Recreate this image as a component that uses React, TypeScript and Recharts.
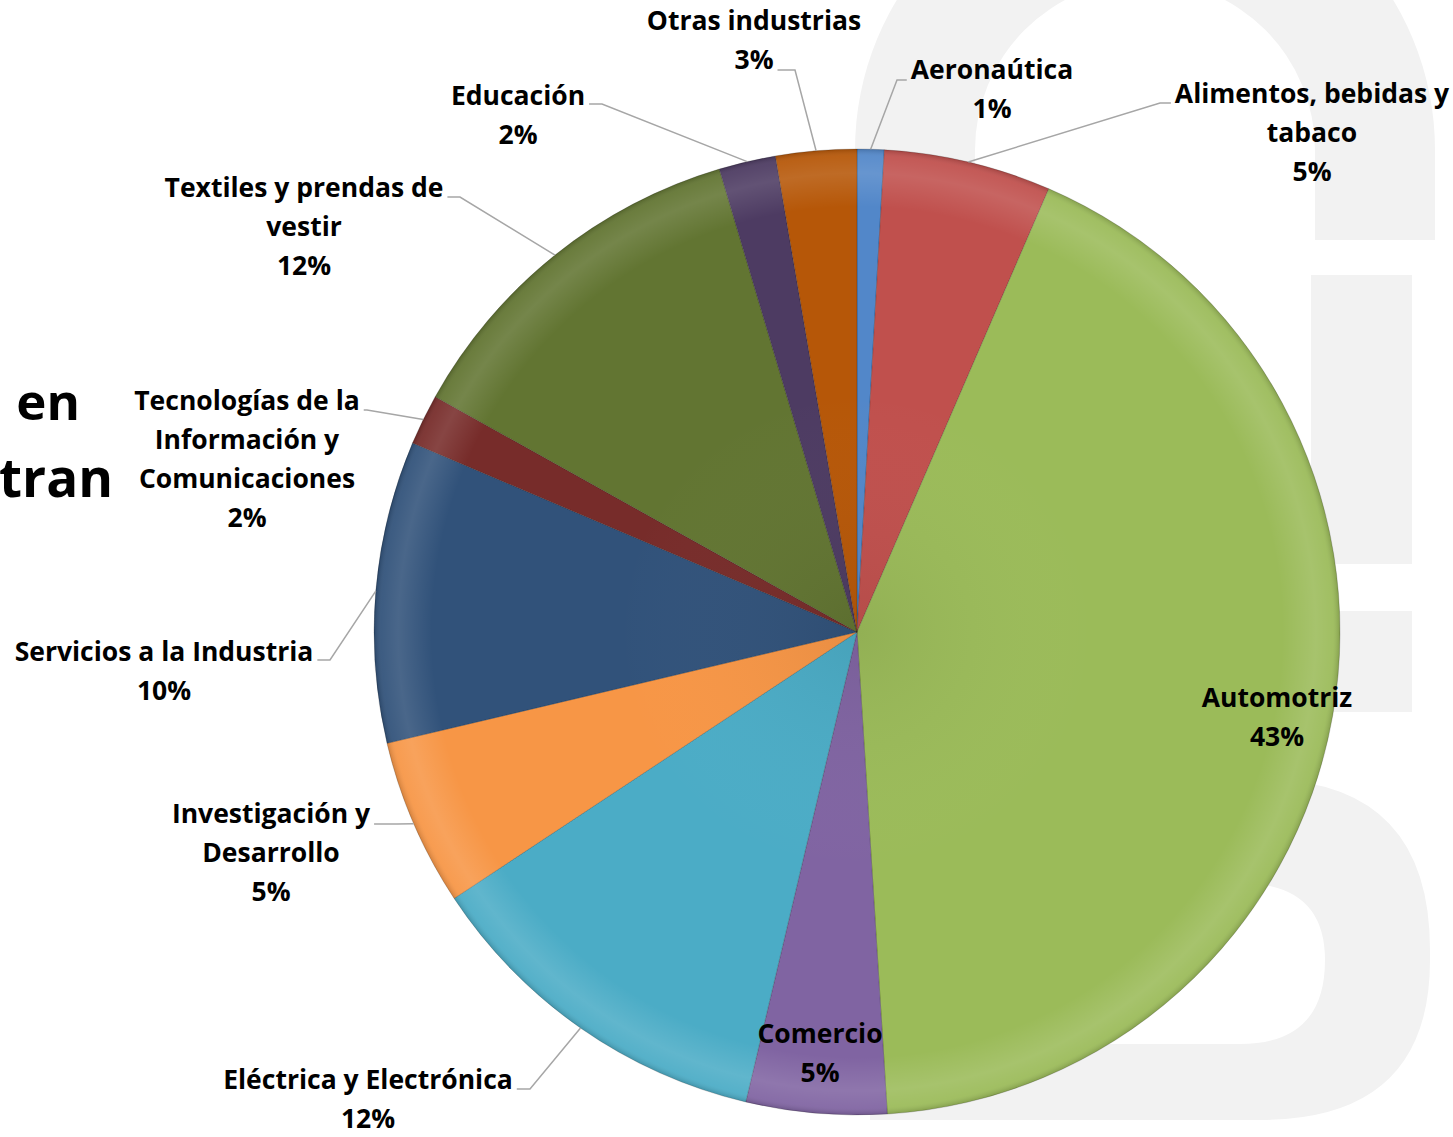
import React from 'react';
import { PieChart, Pie, Cell } from 'recharts';

// ---- data ----
const categories = [
  'Aeronaútica',
  'Alimentos, bebidas y tabaco',
  'Automotriz',
  'Comercio',
  'Eléctrica y Electrónica',
  'Investigación y Desarrollo',
  'Servicios a la Industria',
  'Tecnologías de la Información y Comunicaciones',
  'Textiles y prendas de vestir',
  'Educación',
  'Otras industrias',
];
const shares = [0.9, 5.6, 42.5, 4.7, 12.0, 5.6, 10.1, 1.7, 12.3, 1.9, 2.7];
const pctLabels = ['1%', '5%', '43%', '5%', '12%', '5%', '10%', '2%', '12%', '2%', '3%'];
const labelLines = [
  ['Aeronaútica'],
  ['Alimentos, bebidas y', 'tabaco'],
  ['Automotriz'],
  ['Comercio'],
  ['Eléctrica y Electrónica'],
  ['Investigación y', 'Desarrollo'],
  ['Servicios a la Industria'],
  ['Tecnologías de la', 'Información y', 'Comunicaciones'],
  ['Textiles y prendas de', 'vestir'],
  ['Educación'],
  ['Otras industrias'],
];
const colors = [
  '#5287c9', '#c0504d', '#9bbb59', '#8064a2', '#4bacc6', '#f79646',
  '#31527a', '#772c2a', '#627532', '#4d3b62', '#b65708',
];

// ---- layout (label placement relative to pie centre) ----
type Side = 'left' | 'right' | 'inside';
const labelLayout: { dx: number; dy: number; side: Side; elbowX?: number; lineY?: number; attach?: number }[] = [
  { dx: 135, dy: -553, side: 'right', elbowX: 40, lineY: -552, attach: 0 },
  { dx: 455, dy: -529, side: 'right', elbowX: 303, lineY: -529, attach: 0 },
  { dx: 420, dy: 75, side: 'inside' },
  { dx: -37, dy: 411, side: 'inside' },
  { dx: -489, dy: 457, side: 'left', elbowX: -327, lineY: 457, attach: 0 },
  { dx: -586, dy: 191, side: 'left', elbowX: -460, lineY: 192, attach: 0 },
  { dx: -693, dy: 29, side: 'left', elbowX: -527, lineY: 28, attach: 0 },
  { dx: -610, dy: -222, side: 'left', elbowX: -490, lineY: -222, attach: 0 },
  { dx: -553, dy: -435, side: 'left', elbowX: -397, lineY: -435, attach: 0 },
  { dx: -339, dy: -527, side: 'left', elbowX: -255, lineY: -528, attach: 0 },
  { dx: -103, dy: -602, side: 'left', elbowX: -62, lineY: -562, attach: 1 },
];

const W = 1453;
const H = 1137;
const CX = 857;
const CY = 632;
const R = 483;
const FONT = '"Open Sans", "Noto Sans", sans-serif';
const FS = 26.5;
const LH = 39;

const data = categories.map((name, i) => ({ name, value: shares[i] }));

let measureCtx: CanvasRenderingContext2D | null = null;
function measure(t: string): number {
  if (!measureCtx) {
    const c = document.createElement('canvas');
    measureCtx = c.getContext('2d');
  }
  if (!measureCtx) return t.length * FS * 0.55;
  measureCtx.font = `700 ${FS}px "Open Sans"`;
  return measureCtx.measureText(t).width;
}

const renderLabel = (props: any) => {
  const { cx, cy, midAngle, outerRadius, index } = props;
  const L = labelLayout[index];
  const lines = [...labelLines[index], pctLabels[index]];
  const tx = cx + L.dx;
  const ty = cy + L.dy;
  let leader: React.ReactNode = null;
  if (L.side !== 'inside') {
    const rad = Math.PI / 180;
    const sx = cx + outerRadius * Math.cos(-midAngle * rad);
    const sy = cy + outerRadius * Math.sin(-midAngle * rad);
    const w = measure(lines[L.attach ?? 0]);
    const ex = L.side === 'right' ? tx - w / 2 - 4 : tx + w / 2 + 4;
    const ey = cy + (L.lineY ?? 0);
    const bx = cx + (L.elbowX ?? 0);
    leader = (
      <polyline
        points={`${sx},${sy} ${bx},${ey} ${ex},${ey}`}
        fill="none"
        stroke="#a6a6a6"
        strokeWidth={1.5}
      />
    );
  }
  return (
    <g key={`lbl-${index}`}>
      {leader}
      <text
        textAnchor="middle"
        fontFamily={FONT}
        fontWeight={700}
        fontSize={FS}
        fill="#000"
      >
        {lines.map((t, i) => (
          <tspan key={i} x={tx} y={ty + i * LH}>
            {t}
          </tspan>
        ))}
      </text>
    </g>
  );
};

const Watermark = () => (
  <svg width={W} height={H} style={{ position: 'absolute', left: 0, top: 0 }}>
    <path
      d="M 855 240 L 855 150 A 290 290 0 0 1 1435 150 L 1435 240 L 1315 240 L 1315 150 A 170 170 0 0 0 975 150 L 975 240 Z"
      fill="#f2f2f2"
    />
    <rect x={1311} y={275} width={101} height={289} fill="#f2f2f2" />
    <rect x={1311} y={611} width={101} height={101} fill="#f2f2f2" />
    <path
      fillRule="evenodd"
      d="M 870 779 L 1260 779 Q 1430 779 1430 950 L 1430 960 Q 1430 1120 1260 1120 L 870 1120 Z M 870 883 L 1240 883 Q 1325 883 1325 960 Q 1325 1044 1240 1044 L 870 1044 Z"
      fill="#f2f2f2"
    />
    <text x={80} y={420} textAnchor="end" fontFamily={FONT} fontWeight={700} fontSize={51} fill="#000">
      en
    </text>
    <text x={113} y={497} textAnchor="end" fontFamily={FONT} fontWeight={700} fontSize={53} fill="#000">
      tran
    </text>
  </svg>
);

export default function App() {
  return (
    <div style={{ position: 'absolute', left: 0, top: 0, width: W, height: H, background: '#fff', overflow: 'hidden' }}>
      <Watermark />
      <div style={{ position: 'absolute', left: 0, top: 0 }}>
        <PieChart width={W} height={H} margin={{ top: 0, right: 0, bottom: 0, left: 0 }}>
          <defs>
            <radialGradient id="bevel" cx={CX} cy={CY} r={R} gradientUnits="userSpaceOnUse">
              <stop offset="0" stopColor="#000" stopOpacity={0.06} />
              <stop offset="0.5" stopColor="#fff" stopOpacity={0} />
              <stop offset="0.88" stopColor="#fff" stopOpacity={0} />
              <stop offset="0.95" stopColor="#fff" stopOpacity={0.12} />
              <stop offset="0.985" stopColor="#fff" stopOpacity={0.06} />
              <stop offset="1" stopColor="#000" stopOpacity={0.15} />
            </radialGradient>
          </defs>
          <Pie
            data={data}
            dataKey="value"
            nameKey="name"
            cx={CX}
            cy={CY}
            outerRadius={R}
            startAngle={90}
            endAngle={-270}
            isAnimationActive={false}
            labelLine={false}
            label={renderLabel}
            stroke="rgba(0,0,0,0.18)"
            strokeWidth={1}
          >
            {data.map((d, i) => (
              <Cell key={d.name} fill={colors[i]} />
            ))}
          </Pie>
          <Pie
            data={data}
            dataKey="value"
            nameKey="name"
            cx={CX}
            cy={CY}
            outerRadius={R}
            startAngle={90}
            endAngle={-270}
            isAnimationActive={false}
            label={false}
            labelLine={false}
            stroke="none"
            fill="url(#bevel)"
            style={{ pointerEvents: 'none' }}
          >
            {data.map((d) => (
              <Cell key={d.name} fill="url(#bevel)" />
            ))}
          </Pie>
        </PieChart>
      </div>
    </div>
  );
}
